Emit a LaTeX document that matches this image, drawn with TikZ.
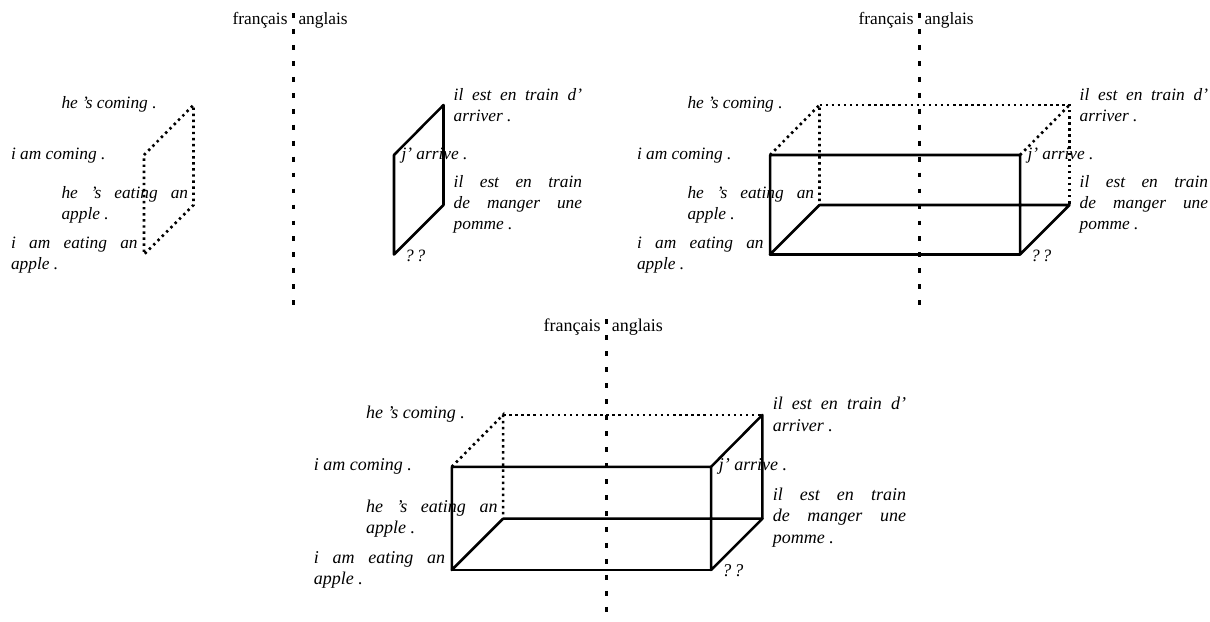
\documentclass[tikz,border=0pt]{standalone}
\usepackage{fontspec}
\setmainfont{Liberation Serif}
\tikzset{
  lbl/.style={anchor=base west, inner sep=0pt, outer sep=0pt, align=left,
    font=\fontsize{10}{12}\selectfont\itshape},
  hdr/.style={inner sep=0pt, outer sep=0pt, font=\fontsize{10}{12}\selectfont},
  solidedge/.style={line width=1.45pt, line cap=round, line join=round},
  dotedge/.style={line width=1.5pt, dash pattern=on 1.4pt off 2.1pt},
  divider/.style={line width=1.75pt, dash pattern=on 2.8pt off 6.4pt},
}
\newcommand\jline[2]{\makebox[#1][s]{#2}}
\newcommand\panelbase[1]{%
  \node[hdr, anchor=base east] (#1fr) at (287.5,24.5) {français};
  \node[hdr, anchor=base west] (#1en) at (298.5,24.5) {anglais};
  \coordinate (#1top) at (293.3,13);
  \coordinate (#1bot) at (293.3,305);
  \draw[divider] (#1top) -- (#1bot);
  \node[lbl] (#1hc) at (61.5,108) {he 's coming .};
  \node[lbl] (#1ic) at (11,159) {i am coming .};
  \node[lbl] (#1he) at (61.5,219.5) {\jline{73pt}{he 's eating an}\\apple .};
  \node[lbl] (#1ie) at (11,269) {\jline{73pt}{i am eating an}\\apple .};
  \node[lbl] (#1fa) at (453.7,121) {\jline{74pt}{il est en train d'}\\arriver .};
  \node[lbl] (#1ja) at (401.5,159) {j' arrive .};
  \node[lbl] (#1fm) at (453.7,229) {\jline{74pt}{il est en train}\\\jline{74pt}{de manger une}\\pomme .};
  \node[lbl] (#1qq) at (405,261) {?\,?};
  \coordinate (#1A) at (144,155);
  \coordinate (#1B) at (144,254.5);
  \coordinate (#1C) at (193.5,105);
  \coordinate (#1D) at (193.5,205);
  \coordinate (#1E) at (394,155);
  \coordinate (#1F) at (394,254.5);
  \coordinate (#1G) at (443.5,105);
  \coordinate (#1H) at (443.5,205);
}
\begin{document}
\begin{tikzpicture}[x=0.5764pt,y=-0.5764pt]
\useasboundingbox (0,0) rectangle (1210,621);
% panel 1
\begin{scope}
  \panelbase{p}
  \draw[dotedge] (pA) -- (pC) -- (pD) -- (pB) -- cycle;
  \draw[solidedge] (pE) -- (pG) -- (pH) -- (pF) -- cycle;
\end{scope}
% panel 2
\begin{scope}[shift={(626,0)}]
  \panelbase{q}
  \draw[dotedge] (qA) -- (qC) -- (qD);
  \draw[dotedge] (qC) -- (qG) -- (qH);
  \draw[dotedge] (qE) -- (qG);
  \draw[solidedge] (qD) -- (qH) -- (qF) -- (qE) -- (qA) -- (qB) -- (qD);
  \draw[solidedge] (qB) -- (qF);
\end{scope}
% panel 3
\begin{scope}[shift={(302.4,306)}, scale=1.037, transform shape]
  \panelbase{r}
  \draw[dotedge] (rA) -- (rC) -- (rD);
  \draw[dotedge] (rC) -- (rG);
  \draw[solidedge] (rD) -- (rH) -- (rF) -- (rE) -- (rA) -- (rB) -- (rD);
  \draw[solidedge] (rB) -- (rF);
  \draw[solidedge] (rE) -- (rG) -- (rH);
\end{scope}
\end{tikzpicture}
\end{document}
